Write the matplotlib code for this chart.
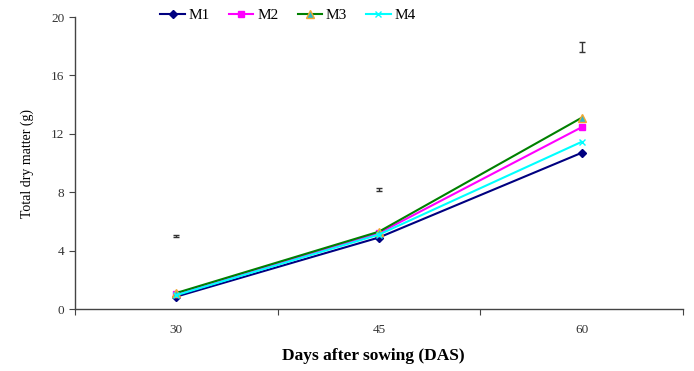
import numpy as np
import matplotlib.pyplot as plt

days = ["30", "45", "60"]
m1 = [0.85, 4.9, 10.7]
m2 = [1.05, 5.2, 12.45]
m3 = [1.1, 5.3, 13.1]
m4 = [0.95, 5.1, 11.45]

# LSD bars drawn above each sampling date
lsd_pos = [4.98, 8.17, 17.95]
lsd_half = [0.06, 0.1, 0.33]

plt.rcParams["font.family"] = ["Liberation Serif", "DejaVu Serif"]

fig = plt.figure(figsize=(6.94, 3.71), dpi=100)
ax = fig.add_axes([0.108, 0.167, 0.876, 0.787])

x = np.arange(len(days))
l1, = ax.plot(x, m1, color="#000080", marker="D", markersize=4, lw=1.5, label="M1")
l2, = ax.plot(x, m2, color="#ff00ff", marker="s", markersize=5, lw=1.5, label="M2")
l3, = ax.plot(x, m3, color="#008000", marker="^", markersize=6, lw=1.5,
              markerfacecolor="#33b5c8", markeredgecolor="#f0a830", label="M3")
l4, = ax.plot(x, m4, color="#00ffff", marker="x", markersize=5, lw=1.5, label="M4")

ax.errorbar(x, lsd_pos, yerr=lsd_half, fmt="none", ecolor="#333333",
            elinewidth=1, capsize=2.5, capthick=1)

ax.set_xlim(-0.5, 2.5)
ax.set_ylim(0, 20)
ax.set_yticks([0, 4, 8, 12, 16, 20])
ax.set_xticks([-0.5, 0.5, 1.5, 2.5])
ax.set_xticklabels([])
ax.set_xticks(x, minor=True)
ax.set_xticklabels(days, minor=True)
ax.tick_params(axis="x", which="minor", length=0, pad=11, labelsize=9.5, colors="#333333")
ax.tick_params(axis="x", which="major", length=4, direction="out", color="#444444")
ax.tick_params(axis="y", length=4, direction="out", labelsize=9.5, colors="#333333")
ax.tick_params(axis="y", color="#444444")

for s in ["top", "right"]:
    ax.spines[s].set_visible(False)
for s in ["left", "bottom"]:
    ax.spines[s].set_color("#444444")
    ax.spines[s].set_linewidth(1)

ax.set_ylabel("Total dry matter (g)", fontsize=10, labelpad=12)
ax.set_xlabel("Days after sowing (DAS)", fontsize=12.5, fontweight="bold", labelpad=9)
ax.xaxis.set_label_coords(0.49, -0.135)

fig.legend(handles=[l1, l2, l3, l4], loc="center", bbox_to_anchor=(0.415, 0.958),
           ncol=4, frameon=False, fontsize=11, handlelength=1.6, handletextpad=0.25,
           columnspacing=1.25)

fig.savefig("out.png", dpi=100)
